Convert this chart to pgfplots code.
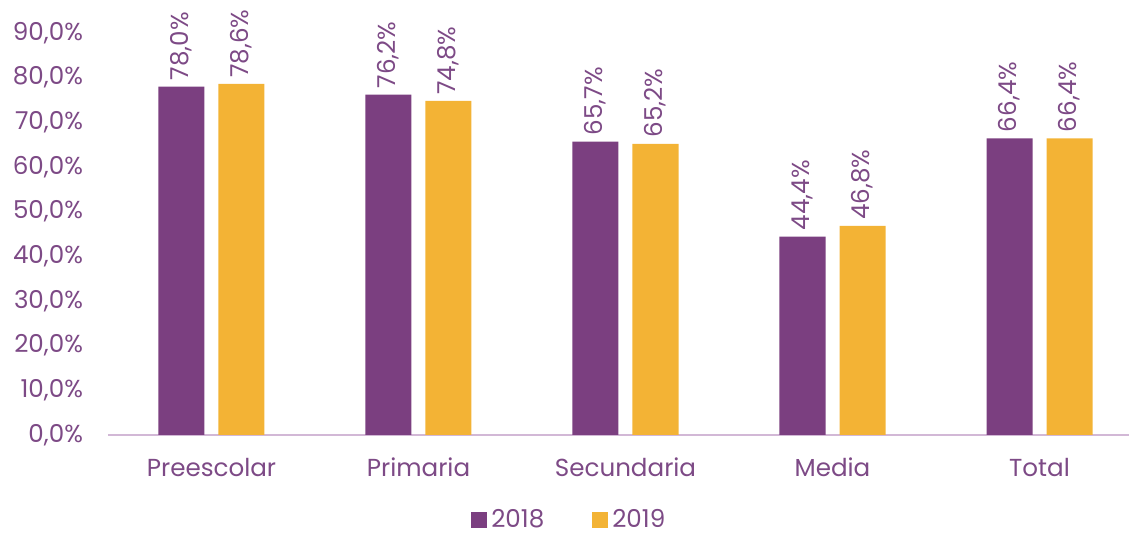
\documentclass[border=0pt]{standalone}
\usepackage{fontspec}
\setmainfont{Poppins}
\usepackage{pgfplots}
\pgfplotsset{compat=1.18}
\definecolor{cpurple}{HTML}{7B3F80}
\definecolor{cyellow}{HTML}{F3B335}
\definecolor{ctext}{HTML}{7D4A86}
\definecolor{caxis}{HTML}{D2B8D6}
\begin{document}
\begin{tikzpicture}
\path[use as bounding box] (-54pt,-49pt) rectangle (510.5pt,217.5pt);
\begin{axis}[
  at={(0,0)}, anchor=south west,
  scale only axis, width=510.25pt, height=201pt,
  font=\fontsize{12.3}{14}\selectfont,
  ybar=7pt, bar width=23pt,
  xmin=-0.5, xmax=4.43, ymin=0, ymax=90,
  xtick=data, xticklabels={Preescolar,Primaria,Secundaria,Media,Total},
  ytick={0,10,...,90},
  major tick length=0pt,
  axis x line*=bottom, axis y line*=left,
  x axis line style={caxis, line width=1.2pt, -},
  y axis line style={draw=none},
  /pgf/number format/assume math mode=true,
  yticklabel={\pgfmathprintnumber[fixed,fixed zerofill,precision=1,use comma]{\tick}\%},
  yticklabel style={text=ctext, xshift=-9pt},
  ytick style={draw=none},
  xtick style={draw=none},
  xticklabel style={text=ctext, yshift=-8pt},
  nodes near coords={\pgfmathprintnumber[fixed,fixed zerofill,precision=1,use comma]{\pgfplotspointmeta}\%},
  nodes near coords style={rotate=90, anchor=west, text=ctext, font=\fontsize{12.3}{14}\selectfont, inner xsep=3pt},
  legend style={at={(0.453,-0.211)}, anchor=center, draw=none, legend columns=2,
    font=\fontsize{12.3}{14}\selectfont, text=ctext,
    /tikz/every even column/.append style={column sep=22pt}},
  legend image code/.code={\fill[#1] (0pt,-4pt) rectangle (8pt,4pt);},
]
\addplot[fill=cpurple, draw=none] coordinates {(0,78.0) (1,76.2) (2,65.7) (3,44.4) (4,66.4)};
\addplot[fill=cyellow, draw=none] coordinates {(0,78.6) (1,74.8) (2,65.2) (3,46.8) (4,66.4)};
\legend{2018,2019}
\end{axis}
\end{tikzpicture}
\end{document}
